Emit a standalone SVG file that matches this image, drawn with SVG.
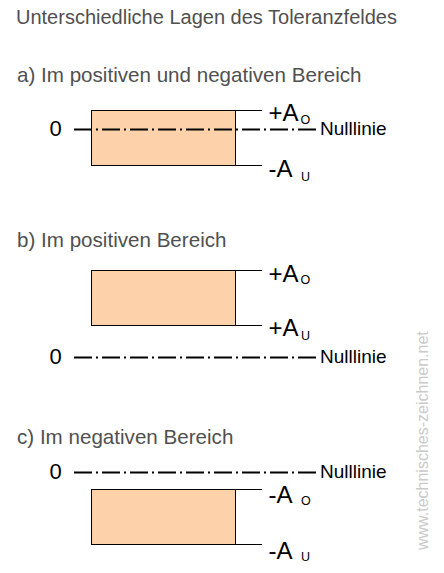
<svg xmlns="http://www.w3.org/2000/svg" width="444" height="573" viewBox="0 0 444 573">
<style>
text{font-family:"Liberation Sans",Arial,sans-serif}
.title{font-size:20px;fill:#505050}
.head{font-size:20.6px;fill:#505050}
.zero{font-size:22px;fill:#000}
.nl{font-size:19px;fill:#000}
.lab{font-size:24px;fill:#000}
.sub{font-size:12.5px;fill:#000}
.box{fill:#FDD2AB;stroke:#000;stroke-width:1}
.ext{stroke:#000;stroke-width:1}
.cl{stroke:#000;stroke-width:2;stroke-dasharray:18 4 2 4;fill:none}
.wm{font-size:16px;fill:#cacaca}
</style>
<rect width="444" height="573" fill="#fff"/>
<text class="title" x="16" y="23.5">Unterschiedliche Lagen des Toleranzfeldes</text>

<g id="section-a">
<text class="head" x="17" y="82">a) Im positiven und negativen Bereich</text>
<rect class="box" x="91.5" y="110.5" width="144" height="55"/>
<line class="ext" x1="236" y1="110.5" x2="262" y2="110.5"/>
<line class="ext" x1="236" y1="165.5" x2="262" y2="165.5"/>
<line class="cl" x1="74" y1="129.5" x2="316" y2="129.5"/>
<text class="zero" x="49.5" y="136">0</text>
<text class="nl" x="320" y="135">Nulllinie</text>
<text class="lab" x="268.5" y="120.5">+A</text>
<text class="sub" x="300.5" y="124">O</text>
<text class="lab" x="268.5" y="177">-A</text>
<text class="sub" x="301" y="180.5">U</text>
</g>

<g id="section-b">
<text class="head" x="17" y="247">b) Im positiven Bereich</text>
<rect class="box" x="91.5" y="270.5" width="144" height="55"/>
<line class="ext" x1="236" y1="270.5" x2="262" y2="270.5"/>
<line class="ext" x1="236" y1="325.5" x2="262" y2="325.5"/>
<line class="cl" x1="74" y1="357.5" x2="316" y2="357.5"/>
<text class="zero" x="49.5" y="364">0</text>
<text class="nl" x="320" y="363">Nulllinie</text>
<text class="lab" x="268.5" y="281.5">+A</text>
<text class="sub" x="300.5" y="283.5">O</text>
<text class="lab" x="268.5" y="335.5">+A</text>
<text class="sub" x="301" y="340">U</text>
</g>

<g id="section-c">
<text class="head" x="17" y="444">c) Im negativen Bereich</text>
<rect class="box" x="91.5" y="489.5" width="144" height="55"/>
<line class="ext" x1="236" y1="489.5" x2="262" y2="489.5"/>
<line class="ext" x1="236" y1="544.5" x2="262" y2="544.5"/>
<line class="cl" x1="74" y1="472.5" x2="316" y2="472.5"/>
<text class="zero" x="49.5" y="479">0</text>
<text class="nl" x="320" y="478">Nulllinie</text>
<text class="lab" x="268.5" y="503">-A</text>
<text class="sub" x="301" y="504.5">O</text>
<text class="lab" x="268.5" y="559">-A</text>
<text class="sub" x="301" y="561">U</text>
</g>

<text class="wm" transform="translate(428,550) rotate(-90)">www.technisches-zeichnen.net</text>
</svg>
